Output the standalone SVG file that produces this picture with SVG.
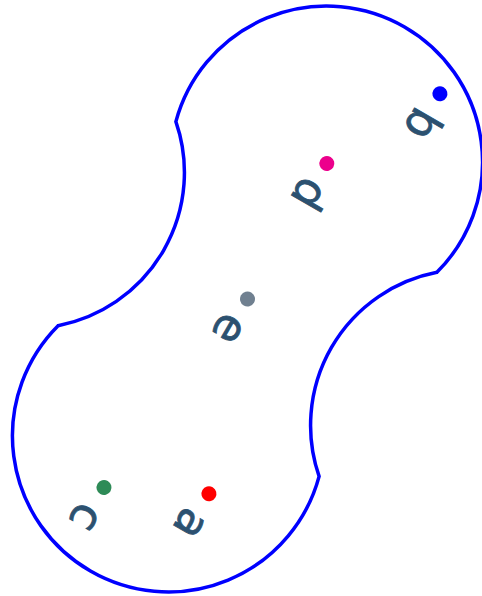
<svg xmlns="http://www.w3.org/2000/svg" width="482" height="596" viewBox="0 0 482 596">
  <style>
    .outline { fill: none; stroke: #0000ff; stroke-width: 3.5; stroke-linejoin: miter; }
    .lbl { font-family: "DejaVu Sans", "Liberation Sans", sans-serif; font-size: 45px; fill: #2c5170; stroke: #2c5170; stroke-width: 0.8; text-anchor: middle; }
  </style>
  <rect width="482" height="596" fill="#ffffff"/>
  <g transform="translate(247.5,299) rotate(120)">
    <g id="shape">
      <path class="outline" d="M117.8,150.7 A156,156 0 1 0 117.8,-150.7 A156,156 0 0 1 -117.8,-150.7 A156,156 0 1 0 -117.8,150.7 A156,156 0 0 1 117.8,150.7 Z"/>
    </g>
    <g id="node-a">
      <circle cx="188" cy="-64" r="7.5" fill="#ff0000"/>
      <text class="lbl" x="223" y="-49">a</text>
    </g>
    <g id="node-b">
      <circle cx="-274" cy="-64" r="7.5" fill="#0000ff"/>
      <text class="lbl" x="-239" y="-49">b</text>
    </g>
    <g id="node-c">
      <circle cx="235" cy="30" r="7.5" fill="#2e8b57"/>
      <text class="lbl" x="270" y="45">c</text>
    </g>
    <g id="node-d">
      <circle cx="-157" cy="-1" r="7.5" fill="#ec008c"/>
      <text class="lbl" x="-122" y="14">d</text>
    </g>
    <g id="node-e">
      <circle cx="0" cy="0" r="7.5" fill="#708090"/>
      <text class="lbl" x="35" y="15">e</text>
    </g>
  </g>
</svg>
